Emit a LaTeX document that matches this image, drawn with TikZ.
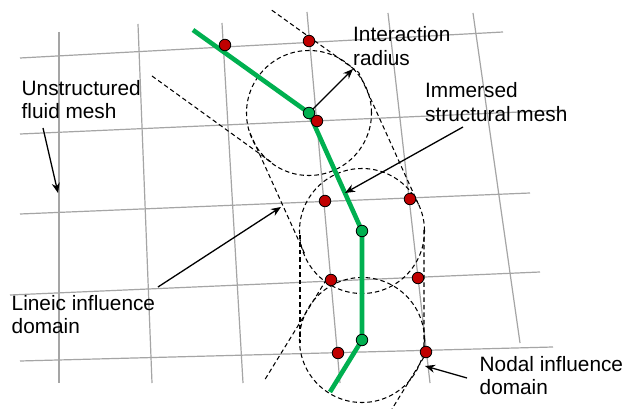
\documentclass[tikz,border=0pt]{standalone}
\usepackage{fontspec}
\setmainfont{Liberation Sans}
\usetikzlibrary{arrows.meta}
\definecolor{gridgray}{RGB}{165,165,165}
\definecolor{beamgreen}{RGB}{0,176,80}
\definecolor{dotred}{RGB}{192,0,0}
\tikzset{
  gridline/.style={draw=gridgray, line width=1.2pt},
  dashline/.style={draw=black, line width=1.05pt, dash pattern=on 4.5pt off 3pt},
  beam/.style={draw=beamgreen, line width=4.6pt},
  fluiddot/.style={circle, draw=black, line width=0.8pt, fill=dotred, minimum size=11.5pt, inner sep=0pt},
  structdot/.style={circle, draw=black, line width=0.8pt, fill=beamgreen, minimum size=11.5pt, inner sep=0pt},
  pointer/.style={draw=black, line width=1.3pt, -{Stealth[length=10pt,width=8pt]}},
  lbl/.style={font=\fontsize{20.8}{23.7}\selectfont, align=left, anchor=base west, inner sep=0pt}
}
\begin{document}
\begin{tikzpicture}[x=1pt,y=-1pt]
\useasboundingbox (0,0) rectangle (641,409);
\fill[white] (0,0) rectangle (641,409);
% grid of the fluid mesh
\coordinate (h1a) at (20,58);  \coordinate (h1b) at (503,32);
\coordinate (h2a) at (20,134); \coordinate (h2b) at (565,110);
\coordinate (h3a) at (20,214); \coordinate (h3b) at (530,193);
\coordinate (h4a) at (10,295); \coordinate (h4b) at (540,272);
\coordinate (h5a) at (20,361); \coordinate (h5b) at (553,347);
\coordinate (v1a) at (59,32);  \coordinate (v1b) at (59,383);
\coordinate (v2a) at (138,24); \coordinate (v2b) at (152,383);
\coordinate (v3a) at (222,23); \coordinate (v3b) at (243,383);
\coordinate (v4a) at (307,12); \coordinate (v4b) at (340,383);
\coordinate (v5a) at (388,13); \coordinate (v5b) at (430,383);
\coordinate (v6a) at (473,13); \coordinate (v6b) at (520,343);
\foreach \l in {h1,h2,h3,h4,h5,v1,v2,v3,v4,v5,v6}
  \draw[gridline] (\l a) -- (\l b);
% structure nodes
\coordinate (E0) at (193,30);
\coordinate (G1c) at (309,113);
\coordinate (G2c) at (362,231);
\coordinate (G3c) at (362,340);
\coordinate (E4) at (330,392);
% interaction circles
\draw[dashline] (G1c) circle[radius=62.5pt];
\draw[dashline] (G2c) circle[radius=62.5pt];
\draw[dashline] (G3c) circle[radius=62.5pt];
% lineic influence domain boundaries
\coordinate (s1la) at (152,76);   \coordinate (s1lb) at (273,163.4);
\coordinate (s1ra) at (271.8,10.2); \coordinate (k12) at (358.7,72.4);
\coordinate (s2rb) at (418.5,204.4);
\coordinate (s2la) at (250,133);  \coordinate (s2lb) at (305.5,255.6);
\coordinate (s3la) at (300,235);  \coordinate (s3lb) at (300,343);
\coordinate (s3ra) at (424,230);  \coordinate (s3rb) at (424,357);
\coordinate (s4rb) at (392,409);
\coordinate (s4la) at (326.5,279.4); \coordinate (s4lb) at (264.7,379.9);
\draw[dashline] (s1la) -- (s1lb);
\draw[dashline] (s1ra) -- (k12) -- (s2rb);
\draw[dashline] (s2la) -- (s2lb);
\draw[dashline] (s3la) -- (s3lb);
\draw[dashline] (s3ra) -- (s3rb) -- (s4rb);
\draw[dashline] (s4la) -- (s4lb);
% immersed beam
\draw[beam] (E0) -- (G1c) -- (G2c) -- (G3c) -- (E4);
% label arrows
\coordinate (rad) at (353,69);
\draw[pointer] (G1c) -- (rad);
\coordinate (a2s) at (43,128); \coordinate (a2e) at (58,193);
\draw[pointer] (a2s) -- (a2e);
\coordinate (a3s) at (463,127); \coordinate (a3e) at (345,193);
\draw[pointer] (a3s) -- (a3e);
\coordinate (a4s) at (158,287); \coordinate (a4e) at (281,207);
\draw[pointer] (a4s) -- (a4e);
\coordinate (a5s) at (467,378); \coordinate (a5e) at (425,366);
\draw[pointer] (a5s) -- (a5e);
% fluid nodes
\node[fluiddot] (R1) at (225,45) {};
\node[fluiddot] (R2) at (309,41) {};
\node[fluiddot] (R3) at (317,121) {};
\node[fluiddot] (R4) at (325,201) {};
\node[fluiddot] (R5) at (410,199) {};
\node[fluiddot] (R6) at (331,280) {};
\node[fluiddot] (R7) at (418,278) {};
\node[fluiddot] (R8) at (338,353) {};
\node[fluiddot] (R9) at (426,352) {};
% structure nodes
\node[structdot] (G1) at (G1c) {};
\node[structdot] (G2) at (G2c) {};
\node[structdot] (G3) at (G3c) {};
% labels (base anchor = baseline of the last line)
\node[lbl] (tInter) at (353,65.7) {Interaction\\radius};
\node[lbl] (tImm) at (425,121.7) {Immersed\\structural mesh};
\node[lbl] (tUns) at (21.5,119) {Unstructured\\fluid mesh};
\node[lbl] (tLin) at (11.5,334) {Lineic influence\\domain};
\node[lbl] (tNod) at (479.5,395) {Nodal influence\\domain};
\end{tikzpicture}
\end{document}
